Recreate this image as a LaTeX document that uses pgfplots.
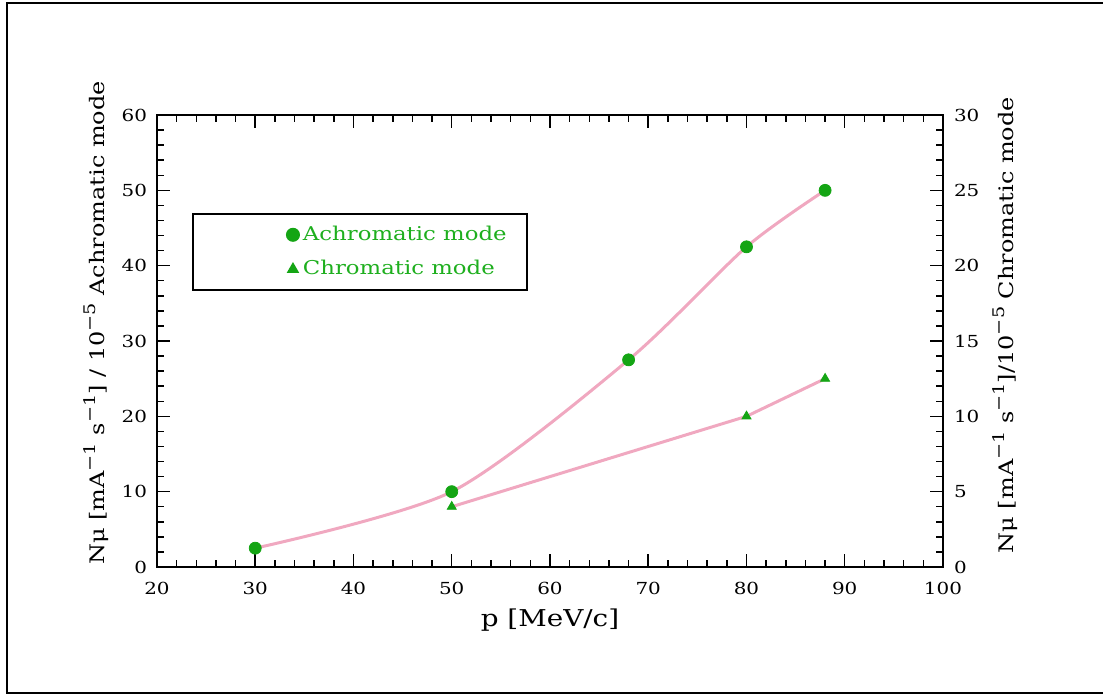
\documentclass[border=0pt]{standalone}
\usepackage{fontspec}
\setmainfont{DejaVu Serif}[FakeStretch=1.2]
\usepackage{pgfplots}
\pgfplotsset{compat=1.18}
\definecolor{pgreen}{RGB}{20,165,20}
\definecolor{tgreen}{RGB}{30,175,30}
\definecolor{pinkl}{RGB}{240,168,192}
\newcommand{\sups}[1]{\raisebox{0.85ex}{\fontsize{8}{9}\selectfont #1}}
\pgfplotsset{
  myleg/.style={legend image code/.code={\path[draw=none] (-42pt,0pt) (0pt,0pt); \draw[##1] plot coordinates {(0pt,0pt)};}},
  common/.style={
    at={(78.5pt,-283.5pt)}, anchor=south west,
    width=393pt, height=226pt, scale only axis,
    xmin=20, xmax=100,
    tick align=inside,
    major tick length=6.5pt, minor tick length=3.5pt,
    axis line style={line width=0.75pt},
    every tick/.style={line width=0.75pt, black},
    ticklabel style={font=\fontsize{8.3}{9}\selectfont},
    /pgf/number format/assume math mode=true,
    label style={font=\fontsize{10}{12}\selectfont},
  }
}
\begin{document}
\begin{tikzpicture}
\useasboundingbox (0,0) rectangle (551.5pt,-347.5pt);
\draw[line width=1pt] (3.5pt,-1.5pt) rectangle (554pt,-346.5pt);
\begin{axis}[common,
  ymin=0, ymax=60,
  xtick={20,30,...,100}, minor x tick num=4,
  ytick={0,10,...,60}, minor y tick num=4,
  ytick pos=left,
  xticklabel style={yshift=-4pt},
  yticklabel style={xshift=-1.5pt},
  xlabel={p [MeV/c]},
  xlabel style={at={(axis description cs:0.5,0)}, anchor=center, yshift=-26.5pt, font=\fontsize{11.6}{13}\selectfont},
  ylabel={Nμ [mA\sups{−1} s\sups{−1}] / 10\sups{−5} Achromatic mode},
  ylabel style={at={(axis description cs:-0.077,0.54)}, anchor=center},
  legend style={at={(0.0445,0.783)}, anchor=north west, draw=black, line width=1pt,
    inner xsep=8pt, inner ysep=4pt, row sep=4.5pt, text=tgreen,
    font=\fontsize{9.5}{10.5}\selectfont},
  legend cell align=left,
]
\addplot[pinkl, line width=1.5pt, smooth, tension=0.45, forget plot] coordinates {(30,2.5) (50,10) (68,27.5) (80,42.5) (88,50)};
\addplot[only marks, mark=*, mark size=3pt, pgreen, myleg] coordinates {(30,2.5) (50,10) (68,27.5) (80,42.5) (88,50)};
\addlegendentry{Achromatic mode}
\addlegendimage{only marks, mark=triangle*, mark size=2.6pt, pgreen, myleg}
\addlegendentry{Chromatic mode}
\end{axis}
\begin{axis}[common,
  ymin=0, ymax=30,
  axis x line=none,
  axis y line*=right,
  ytick={0,5,...,30}, minor y tick num=4,
  yticklabel style={xshift=2pt},
  ylabel={Nμ [mA\sups{−1} s\sups{−1}]/10\sups{−5} Chromatic mode},
  ylabel style={at={(axis description cs:1.079,0.535)}, anchor=center},
]
\addplot[pinkl, line width=1.5pt, forget plot] coordinates {(50,4) (80,10) (88,12.5)};
\addplot[only marks, mark=triangle*, mark size=2.6pt, pgreen] coordinates {(50,4) (80,10) (88,12.5)};
\end{axis}
\end{tikzpicture}
\end{document}
